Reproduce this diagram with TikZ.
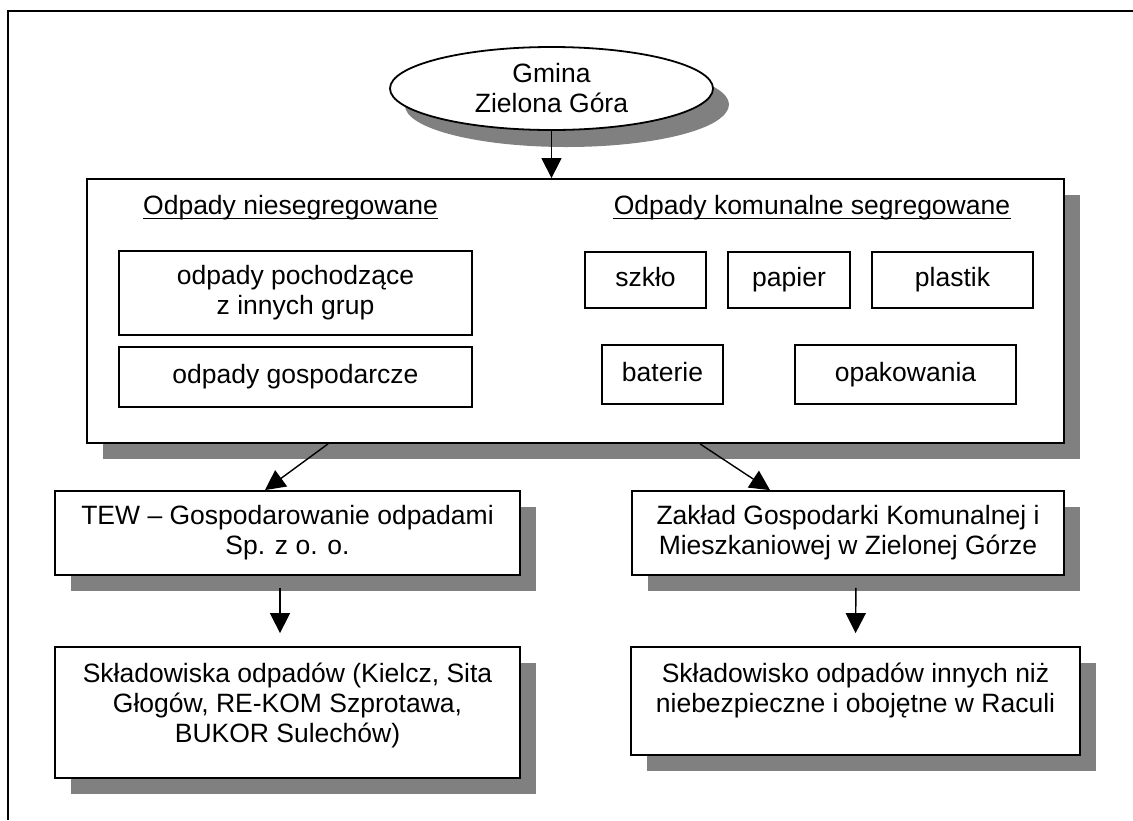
\documentclass[tikz,border=0pt]{standalone}
\usepackage{fontspec}
\setmainfont{Liberation Sans}
\usetikzlibrary{shapes.geometric,shadows,arrows.meta}

\begin{document}
\begin{tikzpicture}[x = 0.5pt, y = -0.5pt,
    every node/.style = {font=\fontsize{13.25}{15}\selectfont, align=center},
    tile/.style = {draw, line width=0.9pt, inner sep=0pt},
    tag/.style = {tile, text height=9.6pt, text depth=2.8pt},
    shade/.style = {tile, fill=white, drop shadow={shadow xshift=8pt, shadow yshift=-8pt, fill=black!50, opacity=1}},
    heading/.style = {anchor=base, inner sep=0pt},
    arr/.style = {-{Triangle[length=10pt,width=10pt]}, line width=0.7pt}]
    \useasboundingbox (0,0) rectangle (1133,820);
    \draw[line width=1pt] (8,820) -- (8,11) -- (1133,11);

    \node[shade, ellipse, minimum width=161.5pt, minimum height=41.5pt,
          drop shadow={shadow xshift=7.5pt, shadow yshift=-8.5pt, fill=black!50, opacity=1}]
        (gmina) at (551.5,88.5) {Gmina\\Zielona Góra};

    \node[shade, minimum width=488.5pt, minimum height=132pt] (odpady) at (575.5,311) {};
    \node[heading] (niesegr) at (290.5,214) {Odpady niesegregowane};
    \node[heading] (segr) at (812,214) {Odpady komunalne segregowane};
    \draw[line width=0.6pt] ([yshift=-2.4pt]niesegr.base west) -- ([yshift=-2.4pt]niesegr.base east);
    \draw[line width=0.6pt] ([yshift=-2.4pt]segr.base west) -- ([yshift=-2.4pt]segr.base east);

    \node[tile, minimum width=176.5pt, minimum height=42pt] (inne) at (295.5,293) {odpady pochodzące\\z innych grup};
    \node[tag, minimum width=176.5pt, minimum height=30pt] (gosp) at (295.5,377) {odpady gospodarcze};
    \node[tag, minimum width=60.5pt, minimum height=28pt] (szklo) at (645.5,280) {szkło};
    \node[tag, minimum width=61pt, minimum height=28pt] (papier) at (789,280) {papier};
    \node[tag, minimum width=80.5pt, minimum height=28pt] (plastik) at (952.5,280) {plastik};
    \node[tag, minimum width=60.5pt, minimum height=29.5pt] (baterie) at (662.5,374.5) {baterie};
    \node[tag, minimum width=110.5pt, minimum height=29.5pt] (opak) at (905.5,374.5) {opakowania};

    \node[shade, minimum width=232.5pt, minimum height=42pt] (tew) at (287.5,533) {TEW – Gospodarowanie odpadami\\Sp. z o. o.};
    \node[shade, minimum width=216pt, minimum height=42pt] (zgkim) at (848,533) {Zakład Gospodarki Komunalnej i\\Mieszkaniowej w Zielonej Górze};

    \node[shade, minimum width=232.5pt, minimum height=65.5pt] (skl1) at (287.5,712.5) {};
    \node[anchor=north, inner sep=0pt] (skl1txt) at ([yshift=-8.25pt]skl1.north) {Składowiska odpadów (Kielcz, Sita\\Głogów, RE-KOM Szprotawa,\\BUKOR Sulechów)};
    \node[shade, minimum width=224.5pt, minimum height=54pt] (skl2) at (855.5,701) {};
    \node[anchor=north, inner sep=0pt] (skl2txt) at ([yshift=-8.25pt]skl2.north) {Składowisko odpadów innych niż\\niebezpieczne i obojętne w Raculi};

    % connectors
    \draw[arr] (gmina.south) -- (gmina.south |- odpady.north);
    \draw[arr] ([xshift=-123.75pt]odpady.south) -- ([xshift=-11.25pt]tew.north);
    \draw[arr] ([xshift=62.25pt]odpady.south) -- ([xshift=-39pt]zgkim.north);
    \draw[arr, shorten <=6pt, shorten >=6.5pt] ([xshift=-3.75pt]tew.south) -- ([xshift=-3.75pt]skl1.north);
    \draw[arr, shorten <=6pt, shorten >=6.5pt] ([xshift=4pt]zgkim.south) -- (skl2.north);
\end{tikzpicture}
\end{document}
